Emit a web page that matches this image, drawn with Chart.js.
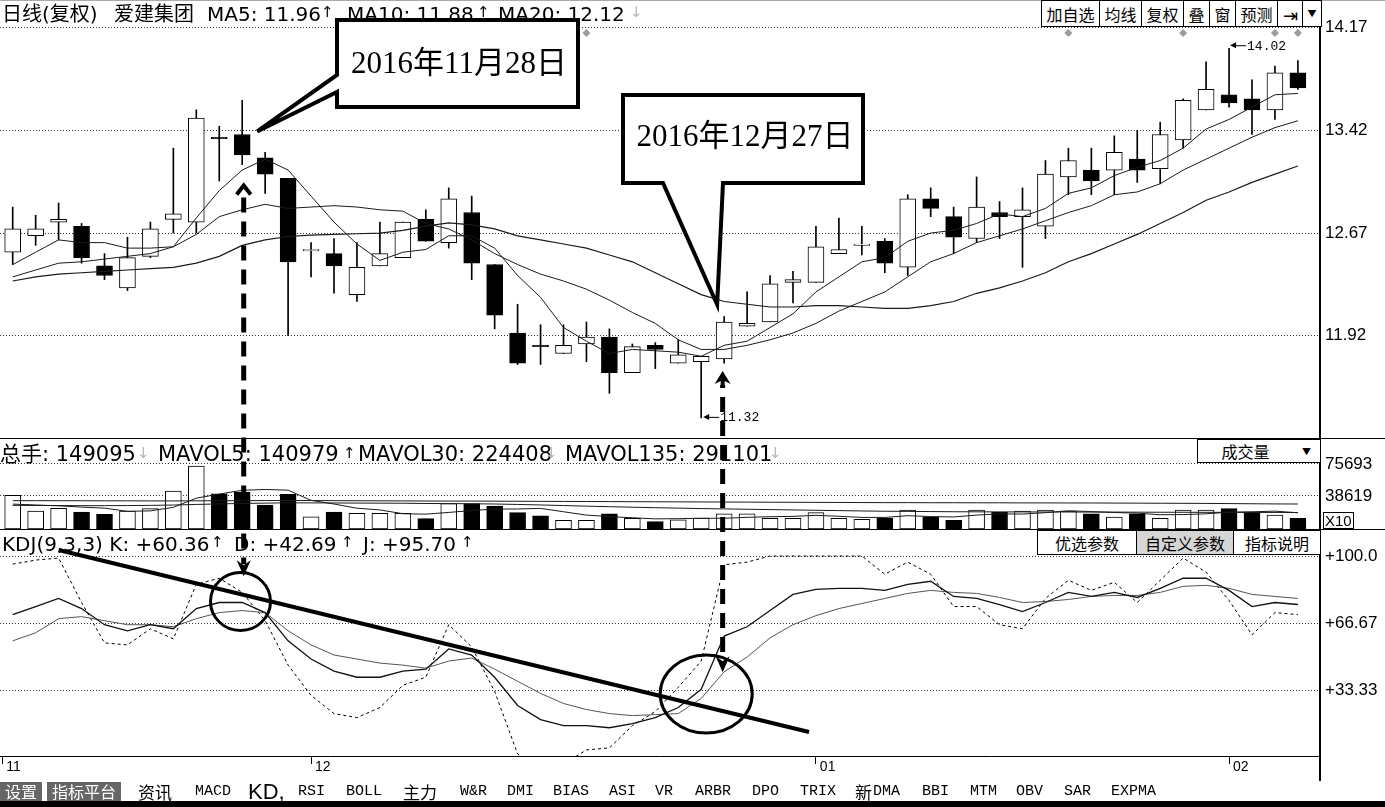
<!DOCTYPE html>
<html>
<head>
<meta charset="utf-8">
<title>爱建集团 日线 KDJ</title>
<script src="https://cdn.jsdelivr.net/npm/chart.js@4.4.1/dist/chart.umd.min.js"></script>
<style>
  html, body { margin: 0; padding: 0; background: #fff; }
  body { position: relative; width: 1385px; height: 807px; overflow: hidden;
         font-family: "DejaVu Sans", "Noto Sans CJK SC", sans-serif; }
  canvas { position: absolute; left: 0; }
  #price { top: 0; }
  #vol { top: 439px; }
  #kdj { top: 530px; }
  #overlay { top: 0; z-index: 5; pointer-events: none; }
  .t { position: absolute; white-space: nowrap; line-height: 1; color: #000; z-index: 2; }
  .dn { color: #b8b8b8; }
  .hl { position: absolute; left: 0; width: 1385px; height: 1px; background: #000; z-index: 1; }
  .vl { position: absolute; left: 1319px; top: 0; width: 2px; height: 781px; background: #000; z-index: 1; }
  .bar { position: absolute; display: flex; border: 1px solid #000; background: #fff; z-index: 3;
         font-family: "Noto Sans CJK SC", sans-serif; font-size: 16px; box-sizing: border-box; }
  .bar span { display: flex; align-items: center; justify-content: center; border-left: 1px solid #000; box-sizing: border-box; }
  .bar span:first-child { border-left: none; }
  .tool { position: absolute; top: 782px; height: 19px; line-height: 19px; white-space: nowrap; z-index: 2; }
  .mono { font-family: "Liberation Mono", monospace; font-size: 15px; }
  .cjk { font-family: "Noto Sans CJK SC", sans-serif; font-size: 17px; }
  .dark { background: #666; color: #fff; text-align: center; font-family: "Noto Sans CJK SC", sans-serif; font-size: 16px; }
</style>
</head>
<body>
<canvas id="price" width="1385" height="439"></canvas>
<canvas id="vol" width="1385" height="91"></canvas>
<canvas id="kdj" width="1385" height="250"></canvas>
<canvas id="overlay" width="1385" height="807"></canvas>
<div class="hl" style="top:0;background:#aaa"></div>
<div class="hl" style="top:438px"></div>
<div class="hl" style="top:529px"></div>
<div class="vl"></div>
<div class="hl" style="top:801px;height:6px"></div>

<script>
// trading days shown (Nov 14 2016 .. Feb 8 2017)
const dates = [
  '2016-11-14','2016-11-15','2016-11-16','2016-11-17','2016-11-18','2016-11-21','2016-11-22','2016-11-23','2016-11-24','2016-11-25',
  '2016-11-28','2016-11-29','2016-11-30','2016-12-01','2016-12-02','2016-12-05','2016-12-06','2016-12-07','2016-12-08','2016-12-09',
  '2016-12-12','2016-12-13','2016-12-14','2016-12-15','2016-12-16','2016-12-19','2016-12-20','2016-12-21','2016-12-22','2016-12-23',
  '2016-12-26','2016-12-27','2016-12-28','2016-12-29','2016-12-30','2017-01-03','2017-01-04','2017-01-05','2017-01-06','2017-01-09',
  '2017-01-10','2017-01-11','2017-01-12','2017-01-13','2017-01-16','2017-01-17','2017-01-18','2017-01-19','2017-01-20','2017-01-23',
  '2017-01-24','2017-01-25','2017-01-26','2017-02-03','2017-02-06','2017-02-07','2017-02-08'
];

const open = [12.53,12.65,12.75,12.72,12.43,12.27,12.50,12.77,12.75,13.37, 13.39,13.22,13.07,12.54,12.52,12.22,12.43,12.49,12.77,12.60,
  12.82,12.44,11.94,11.85,11.79,11.86,11.91,11.65,11.85,11.72, 11.73,11.75,11.99,12.02,12.31,12.31,12.52,12.58,12.61,12.42,
  12.92,12.79,12.63,12.82,12.79,12.72,13.08,13.13,13.13,13.21, 13.14,13.35,13.57,13.68,13.65,13.57,13.84];
const high = [12.86,12.80,12.89,12.74,12.52,12.64,12.75,13.29,13.57,13.45, 13.64,13.26,13.07,12.60,12.63,12.60,12.75,12.75,12.84,13.00,
  12.94,12.44,12.15,12.00,12.00,12.02,11.97,11.86,11.87,11.89, 11.77,12.06,12.24,12.36,12.39,12.72,12.78,12.72,12.63,12.95,
  13.00,12.86,13.08,12.90,13.00,13.20,13.29,13.29,13.38,13.42, 13.48,13.65,13.92,14.02,13.79,13.89,13.93];
const low = [12.44,12.58,12.62,12.45,12.33,12.25,12.49,12.67,12.67,13.05, 13.17,12.96,11.92,12.35,12.23,12.17,12.43,12.49,12.61,12.56,
  12.33,11.97,11.71,11.71,11.79,11.73,11.50,11.65,11.68,11.72, 11.32,11.72,11.99,12.02,12.16,12.31,12.52,12.51,12.38,12.36,
  12.79,12.52,12.60,12.63,12.42,12.63,12.95,12.95,12.95,13.04, 13.03,13.29,13.57,13.59,13.39,13.50,13.72];
const close = [12.70,12.70,12.77,12.49,12.36,12.49,12.70,12.81,13.51,13.36, 13.24,13.10,12.46,12.55,12.43,12.42,12.52,12.75,12.61,12.92,
  12.45,12.07,11.72,11.84,11.85,11.91,11.65,11.84,11.82,11.78, 11.77,12.02,12.01,12.30,12.33,12.57,12.55,12.59,12.45,12.92,
  12.85,12.64,12.86,12.79,12.84,13.10,13.20,13.05,13.26,13.13, 13.39,13.64,13.72,13.62,13.57,13.84,13.73];

const ma5 = [12.44,12.53,12.62,12.60,12.60,12.56,12.56,12.57,12.78,12.98, 13.13,13.21,13.13,12.94,12.75,12.59,12.47,12.53,12.55,12.65,
  12.65,12.56,12.36,12.20,11.98,11.88,11.79,11.82,11.81,11.80, 11.77,11.85,11.88,11.98,12.08,12.24,12.35,12.46,12.49,12.61,
  12.67,12.69,12.74,12.81,12.79,12.85,12.96,13.00,13.09,13.15, 13.20,13.29,13.43,13.50,13.59,13.68,13.69];
const ma10 = [12.35,12.40,12.45,12.46,12.48,12.50,12.52,12.57,12.66,12.79, 12.84,12.88,12.85,12.86,12.87,12.86,12.84,12.83,12.74,12.70,
  12.62,12.52,12.44,12.37,12.32,12.26,12.18,12.09,12.01,11.89, 11.82,11.82,11.85,11.89,11.94,12.01,12.10,12.17,12.24,12.35,
  12.46,12.52,12.60,12.65,12.70,12.76,12.82,12.87,12.95,12.97, 13.03,13.13,13.21,13.29,13.37,13.44,13.49];
const ma20 = [12.32,12.35,12.37,12.38,12.39,12.40,12.41,12.42,12.45,12.50, 12.58,12.62,12.645,12.655,12.66,12.665,12.67,12.69,12.72,12.745,
  12.73,12.70,12.65,12.62,12.59,12.56,12.51,12.46,12.38,12.30, 12.22,12.17,12.15,12.13,12.13,12.14,12.14,12.13,12.12,12.12,
  12.14,12.17,12.23,12.27,12.32,12.38,12.46,12.52,12.59,12.66, 12.74,12.82,12.91,12.97,13.04,13.10,13.16];

const volume = [39300,21000,24100,19800,17100,21000,23700,44300,73400,41100, 43100,28000,40400,14300,19800,18300,18300,18300,12000,29500,
  29500,26800,19000,15200,10100,10100,17800,12500,8500,10800, 12800,17800,17800,12500,12500,19000,12500,11300,12500,22100,
  14000,10100,22100,19800,21000,22100,21000,17800,14000,17800, 12500,22100,22100,23700,19800,16300,12500];
const mavol5 = [29000,28000,27000,25500,24300,20600,21100,25200,35900,40700, 45100,46000,45200,33400,29100,24200,22200,17800,17300,19300,
  21500,23200,23300,24000,20100,16200,14400,13100,11800,12000, 12500,12500,13600,14300,14700,15900,14800,13500,13500,15500,
  14500,14000,16200,17600,17400,19000,21200,20300,19200,18500, 16600,16800,17700,19600,20000,20800,18900];
const mavol30 = [27500,27400,27300,27200,27200,27300,27500,27900,28600,29200, 29800,30100,30500,30400,30300,30200,30100,30000,29700,29600,
  29400,29100,28600,28000,27300,26600,26000,25400,24800,24300, 23800,23400,23000,22600,22200,21800,21400,21000,20700,20500,
  20300,20100,20000,19900,19900,19800,19800,19700,19700,19600, 19500,19500,19400,19400,19300,19300,19200];
const mavol135 = [33000,33000,32900,32900,32800,32800,32700,32700,32800,32900, 33000,33100,33200,33100,33000,32900,32800,32700,32600,32500,
  32500,32400,32300,32200,32100,32000,31900,31800,31700,31600, 31500,31400,31300,31200,31100,31000,30900,30800,30700,30700,
  30600,30600,30500,30500,30400,30400,30300,30300,30200,30100, 30000,29900,29800,29600,29400,29200,29100];

const kLine = [71,75,79,74,66,63,66,64,74,77, 77,72,58,49,43,40,40,43,44,54, 51,40,26,19,16,16,15,17,20,25,
  34,60.36,65,73,81,83.5,84,84,83,86, 87.5,80,79,76,72.5,77,82,80,82,79.5, 84,89,89,83,75,77,76];
const dLine = [58,62,69,70,68,66,66,65,69,72, 73,72,63,56,51,49,47,46,44.5,48, 49.5,44,38,32,27,24,22,21,21.5,22,
  29.5,42.69,50,59.5,66,70.5,74,76.5,79,81.5, 83,82,81.5,79.5,77,77.5,78.5,80,80.5,80.5, 82,85,85.5,84,81,80,79];
const jLine = [96,98,99,77,57,56,64,59,86,89, 82,68,46,31,22,20,25,36,40,66, 55,33,2,-5,-3,4,5,16,23,35,
  48,95.7,97,100,100,100,100,100,91,97, 91,75,75,66,64,79,88,83,87,77, 88,99,92,78,61,72,71];

const priceTicks = [11.92, 12.67, 13.42, 14.17];
const volTicks = [38619, 75693];
const kdjTicks = [33.33, 66.67, 100];
const infoDays = [26, 47, 52, 56, 57];
const markDays = [11, 32];   // the two dates pointed at in the callouts

// ---- charts ----
Chart.defaults.font.family = "'Liberation Sans', sans-serif";
Chart.defaults.color = '#000';

const xMin = 0.4466, xMax = 57.963;
const idx = dates.map((d, i) => i + 1);
const isUp = idx.map((x, i) => close[i] >= open[i]);
const fills = isUp.map(u => u ? '#fff' : '#000');
const pts = arr => arr.map((y, i) => ({x: i + 1, y}));

function yAxis(min, max, ticks, fmt) {
  return {
    position: 'right', min, max,
    // fixed axis width, and no extra room reserved for the end labels
    afterFit(s) { s.width = 65; s.paddingTop = 0; s.paddingBottom = 0; },
    afterBuildTicks(s) { s.ticks = ticks.map(v => ({value: v})); },
    ticks: { callback: fmt, font: {size: 17}, color: '#000', padding: 5, crossAlign: 'near' },
    grid: { color: '#333', drawTicks: false },
    border: { display: true, color: '#000', width: 2, dash: [1, 2] }
  };
}
const hiddenX = () => ({type: 'linear', min: xMin, max: xMax, offset: false, display: false, grid: {offset: false}});
const base = {responsive: false, animation: false, events: [],
  plugins: {legend: {display: false}, tooltip: {enabled: false}}};
const maLine = (arr, w, col) => ({type: 'line', data: pts(arr), borderColor: col || '#1a1a1a', borderWidth: w || 1,
  pointRadius: 0, tension: 0, order: 1});

const priceChart = new Chart(document.getElementById('price'), {
  type: 'bar',
  data: { datasets: [
    {data: idx.map((x, i) => ({x, y: [low[i], high[i]]})), backgroundColor: '#000', barThickness: 1, grouped: false, order: 3},
    {data: idx.map((x, i) => ({x, y: [Math.min(open[i], close[i]), Math.max(open[i], close[i])]})),
     backgroundColor: fills, borderColor: '#000', borderWidth: 1, borderSkipped: false, barThickness: 16, grouped: false, order: 2},
    maLine(ma5), maLine(ma10), maLine(ma20, 1.2)
  ]},
  options: Object.assign({}, base, {
    layout: {padding: {top: 1, bottom: 1, left: 0, right: 0}},
    scales: { x: hiddenX(), y: yAxis(11.173, 14.365, priceTicks, v => v.toFixed(2)) }
  })
});

const volChart = new Chart(document.getElementById('vol'), {
  type: 'bar',
  data: { datasets: [
    {data: idx.map((x, i) => ({x, y: volume[i]})), backgroundColor: fills, borderColor: '#000', borderWidth: 1,
     borderSkipped: false, barThickness: 16, grouped: false, order: 2},
    maLine(mavol5), maLine(mavol30), maLine(mavol135)
  ]},
  options: Object.assign({}, base, {
    layout: {padding: {top: 1, bottom: 1, left: 0, right: 0}},
    scales: { x: hiddenX(), y: yAxis(0, 103641, volTicks, v => String(v)) }
  })
});

const firstOfMonth = dates.map((d, i) => (i === 0 || d.slice(5, 7) !== dates[i - 1].slice(5, 7)) ? i : -1).filter(i => i >= 0);
const monthTicks = firstOfMonth.map(i => ({value: i === 0 ? xMin + 0.1 : i + 1, label: dates[i].slice(5, 7)}));

const kdjChart = new Chart(document.getElementById('kdj'), {
  type: 'line',
  data: { datasets: [
    {data: pts(kLine), borderColor: '#111', borderWidth: 1.3, pointRadius: 0, tension: 0},
    {data: pts(dLine), borderColor: '#555', borderWidth: 1, pointRadius: 0, tension: 0},
    {data: pts(jLine), borderColor: '#000', borderWidth: 1, borderDash: [3, 3], pointRadius: 0, tension: 0}
  ]},
  options: Object.assign({}, base, {
    layout: {padding: {top: 1, bottom: 0, left: 0, right: 0}},
    scales: {
      x: { type: 'linear', min: xMin, max: xMax, offset: false, position: 'bottom',
        afterFit(s) { s.height = 24; },
        afterBuildTicks(s) { s.ticks = monthTicks.map(t => ({value: t.value})); },
        ticks: { autoSkip: false, maxRotation: 0, align: 'start', padding: -5, font: {size: 14}, color: '#000',
                 callback: (v, i) => ' ' + monthTicks[i].label },
        grid: { drawOnChartArea: false, drawTicks: true, tickLength: 8, color: '#000' },
        border: { display: true, color: '#000', width: 1 } },
      y: yAxis(1, 112.4, kdjTicks, v => '+' + (v === 100 ? '100.0' : v.toFixed(2)))
    }
  })
});

// ---- text: headers, toolbars ----
function txt(s, x, y, size, cls, extra) {
  const d = document.createElement('div');
  d.className = 't' + (cls ? ' ' + cls : '');
  d.textContent = s;
  d.style.left = x + 'px'; d.style.top = y + 'px'; d.style.fontSize = size + 'px';
  if (extra) Object.assign(d.style, extra);
  document.body.appendChild(d);
  return d;
}
[['日线(复权)', 2], ['爱建集团', 114], ['MA5: 11.96', 207], ['MA10: 11.88', 347], ['MA20: 12.12', 498]]
  .forEach(([s, x]) => txt(s, x, 4, 20));
txt('↑', 321, 5, 15); txt('↑', 477, 5, 15); txt('↓', 630, 5, 15, 'dn');

[['总手: 149095', 0], ['MAVOL5: 140979', 158], ['MAVOL30: 224408', 358], ['MAVOL135: 291101', 565]]
  .forEach(([s, x]) => txt(s, x, 444, 21));
txt('↓', 137, 446, 15, 'dn'); txt('↑', 343, 446, 15); txt('↓', 545, 446, 15, 'dn'); txt('↓', 769, 446, 15, 'dn');

[['KDJ(9,3,3) K: +60.36', 2], ['D: +42.69', 234], ['J: +95.70', 363]].forEach(([s, x]) => txt(s, x, 534, 20));
txt('↑', 211, 535, 15); txt('↑', 341, 535, 15); txt('↑', 461, 535, 15);

function buttonBar(items, x, y, h) {
  const b = document.createElement('div');
  b.className = 'bar';
  b.style.left = x + 'px'; b.style.top = y + 'px'; b.style.height = h + 'px';
  items.forEach(([s, w, bg, fs]) => {
    const sp = document.createElement('span');
    sp.textContent = s; sp.style.width = w + 'px';
    if (bg) sp.style.background = bg;
    if (fs) sp.style.fontSize = fs + 'px';
    b.appendChild(sp);
  });
  document.body.appendChild(b);
  return b;
}
buttonBar([['加自选', 57], ['均线', 42], ['复权', 42], ['叠', 26], ['窗', 26], ['预测', 42], ['⇥', 25, null, 18], ['▼', 19, null, 9]], 1041, 0, 27);
buttonBar([['优选参数', 98], ['自定义参数', 97, '#d6d6d6'], ['指标说明', 87]], 1037, 530, 25);
buttonBar([['成交量', 95], ['▼', 27, null, 9]], 1197, 439, 24)
  .querySelectorAll('span').forEach(s => s.style.borderLeft = 'none');
txt('X10', 1323, 512, 15, '', {fontFamily: "'Liberation Sans'", border: '1px solid #000', padding: '0 1px'});

function tool(s, x, cls, extra) {
  const d = document.createElement('div');
  d.className = 'tool ' + cls; d.textContent = s; d.style.left = x + 'px';
  if (extra) Object.assign(d.style, extra);
  document.body.appendChild(d);
}
tool('设置', 0, 'dark', {width: '42px'});
tool('指标平台', 47, 'dark', {width: '74px'});
[['资讯', 138, 'cjk'], ['MACD', 195, 'mono'], ['RSI', 298, 'mono'], ['BOLL', 346, 'mono'], ['主力', 403, 'cjk'],
 ['W&R', 460, 'mono'], ['DMI', 507, 'mono'], ['BIAS', 553, 'mono'], ['ASI', 609, 'mono'], ['VR', 655, 'mono'],
 ['ARBR', 695, 'mono'], ['DPO', 752, 'mono'], ['TRIX', 800, 'mono'], ['新', 855, 'cjk'], ['DMA', 873, 'mono'],
 ['BBI', 922, 'mono'], ['MTM', 970, 'mono'], ['OBV', 1016, 'mono'], ['SAR', 1064, 'mono'], ['EXPMA', 1111, 'mono']]
  .forEach(([s, x, c]) => tool(s, x, c));
tool('KD,', 248, '', {fontFamily: "'Liberation Sans'", fontSize: '22px'});

// ---- annotations drawn on top ----
function drawOverlay() {
  const c = document.getElementById('overlay').getContext('2d');
  const pX = v => priceChart.scales.x.getPixelForValue(v);
  const pY = v => priceChart.scales.y.getPixelForValue(v);
  const kX = v => kdjChart.scales.x.getPixelForValue(v);
  const kY = v => 530 + kdjChart.scales.y.getPixelForValue(v);

  // info markers along the top
  c.fillStyle = '#9c9c9c';
  infoDays.forEach(d => {
    const x = pX(d);
    c.beginPath(); c.moveTo(x, 29); c.lineTo(x + 4, 33); c.lineTo(x, 37); c.lineTo(x - 4, 33); c.closePath(); c.fill();
  });

  // lowest / highest price tags
  function tag(x, y, text) {
    c.fillStyle = '#000'; c.strokeStyle = '#000'; c.lineWidth = 1;
    c.beginPath(); c.moveTo(x, y); c.lineTo(x + 6, y - 3); c.lineTo(x + 6, y + 3); c.closePath(); c.fill();
    c.beginPath(); c.moveTo(x + 5, y + 0.5); c.lineTo(x + 16, y + 0.5); c.stroke();
    c.font = "13px 'Liberation Mono'"; c.textBaseline = 'middle'; c.textAlign = 'left';
    c.fillText(text, x + 17, y + 1);
  }
  const iLow = low.indexOf(Math.min(...low)), iHigh = high.indexOf(Math.max(...high));
  tag(pX(iLow + 1) + 2, pY(low[iLow]) - 1, low[iLow].toFixed(2));
  tag(pX(iHigh + 1) + 1, pY(high[iHigh]) - 3, high[iHigh].toFixed(2));

  // dashed guide lines with arrows
  c.strokeStyle = '#000'; c.fillStyle = '#000';
  const xa = pX(markDays[0]) + 1.5, xb = pX(markDays[1]) - 1.5;
  const upA = pY(low[markDays[0] - 1]) + 19, upB = pY(low[markDays[1] - 1]) + 8;
  const dnA = kY(90), dnB = kY(42.5);
  c.lineWidth = 5; c.setLineDash([15, 9]);
  c.beginPath(); c.moveTo(xa, upA + 14); c.lineTo(xa, dnA - 12); c.stroke();
  c.lineDashOffset = 12;   // leaves a gap where the low-price tag sits
  c.beginPath(); c.moveTo(xb, upB + 14); c.lineTo(xb, dnB - 12); c.stroke();
  c.setLineDash([]); c.lineDashOffset = 0;
  c.lineWidth = 4; c.lineJoin = 'miter';
  c.beginPath(); c.moveTo(xa - 7, upA + 11); c.lineTo(xa, upA + 2); c.lineTo(xa + 7, upA + 11); c.stroke();
  c.beginPath(); c.moveTo(xb, upB); c.lineTo(xb + 8, upB + 13); c.lineTo(xb + 2, upB + 10); c.lineTo(xb + 2, upB + 16);
  c.lineTo(xb - 2, upB + 16); c.lineTo(xb - 2, upB + 10); c.lineTo(xb - 8, upB + 13); c.closePath(); c.fill();
  [[xa, dnA], [xb, dnB]].forEach(([x, y]) => {
    c.beginPath(); c.moveTo(x, y); c.lineTo(x - 7, y - 16); c.lineTo(x, y - 11); c.lineTo(x + 7, y - 16); c.closePath(); c.fill();
  });

  // callouts
  const fmtDate = d => d.slice(0, 4) + '年' + (+d.slice(5, 7)) + '月' + (+d.slice(8, 10)) + '日';
  c.lineWidth = 4; c.fillStyle = '#fff'; c.strokeStyle = '#000';
  const a1 = [pX(markDays[0]) + 15, pY(open[markDays[0] - 1]) - 3];
  c.beginPath(); c.moveTo(337, 20); c.lineTo(578, 20); c.lineTo(578, 107); c.lineTo(337, 107); c.lineTo(337, 92);
  c.lineTo(a1[0], a1[1]); c.lineTo(337, 75); c.closePath(); c.fill(); c.stroke();
  const a2 = [pX(markDays[1]) - 7, pY(ma20[markDays[1] - 1]) + 3];
  c.beginPath(); c.moveTo(623, 95); c.lineTo(863, 95); c.lineTo(863, 183); c.lineTo(723, 183);
  c.lineTo(a2[0], a2[1]); c.lineTo(663, 183); c.lineTo(623, 183); c.closePath(); c.fill(); c.stroke();
  c.fillStyle = '#000'; c.font = "31px 'Liberation Serif', 'Noto Sans CJK SC'";
  c.textAlign = 'center'; c.textBaseline = 'alphabetic';
  c.fillText(fmtDate(dates[markDays[0] - 1]), 459, 73);
  c.fillText(fmtDate(dates[markDays[1] - 1]), 745, 146);

  // KDJ circles and falling trend line
  c.lineWidth = 3;
  c.beginPath(); c.ellipse(kX(markDays[0]) - 1.7, kY(77.5), 30, 29, 0, 0, Math.PI * 2); c.stroke();
  c.beginPath(); c.ellipse(kX(markDays[1] - 1) + 5, kY(31.7), 46, 39, 0, 0, Math.PI * 2); c.stroke();
  c.lineWidth = 4;
  c.beginPath(); c.moveTo(kX(3), kY(103)); c.lineTo(kX(35.7), kY(12.9)); c.stroke();
}
drawOverlay();
</script>
</body>
</html>
